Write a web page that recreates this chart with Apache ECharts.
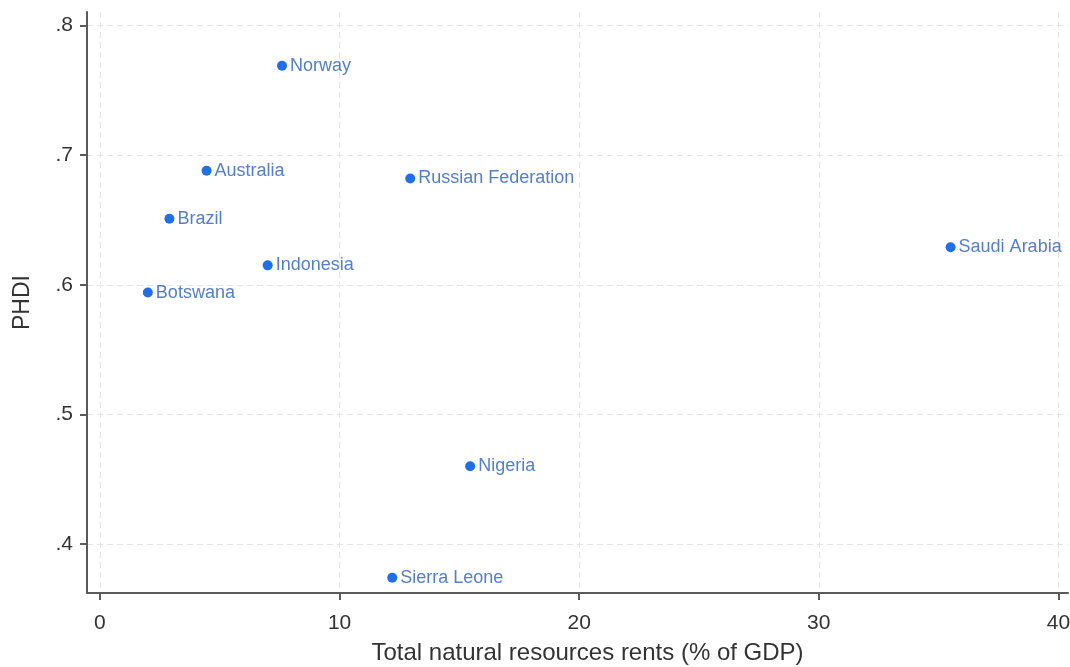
<!DOCTYPE html>
<html>
<head>
<meta charset="utf-8">
<title>PHDI vs natural resource rents</title>
<script src="https://cdn.jsdelivr.net/npm/echarts@6/dist/echarts.min.js"></script>
<style>
  html, body { margin: 0; padding: 0; background: #ffffff; }
  #chart { width: 1070px; height: 667px; }
</style>
</head>
<body>
<div id="chart"></div>
<script>
// Countries and their values
const countries = ['Norway', 'Australia', 'Russian Federation', 'Brazil', 'Saudi Arabia',
                   'Indonesia', 'Botswana', 'Nigeria', 'Sierra Leone'];
const rents = [7.6, 4.45, 12.95, 2.9, 35.5, 7.0, 2.0, 15.45, 12.2];   // % of GDP
const phdi  = [0.769, 0.688, 0.682, 0.651, 0.629, 0.615, 0.594, 0.460, 0.374];

// Tick labels
const xTicks = [0, 10, 20, 30, 40];
const yTicks = [0.4, 0.5, 0.6, 0.7, 0.8];

const FONT = '"Liberation Sans", Arial, sans-serif';
const AXIS_COLOR = '#5a5a5a';
const GRID_COLOR = '#e4e4e4';

const points = countries.map((name, i) => ({ name: name, value: [rents[i], phdi[i]] }));

const chart = echarts.init(document.getElementById('chart'), null, { renderer: 'canvas' });
chart.setOption({
  animation: false,
  backgroundColor: '#ffffff',
  grid: { left: 87, right: 2, top: 12, bottom: 74, containLabel: false, outerBoundsMode: 'none' },
  xAxis: {
    type: 'value',
    min: -0.54,
    max: 40.4,
    name: 'Total natural resources rents (% of GDP)',
    nameLocation: 'middle',
    nameGap: 48,
    nameTextStyle: { fontFamily: FONT, fontSize: 24, color: '#333333', padding: [0, 0, 0, 20] },
    axisLine: { show: true, onZero: false, lineStyle: { color: AXIS_COLOR, width: 2 } },
    axisTick: { show: true, length: 7, customValues: xTicks, lineStyle: { color: AXIS_COLOR, width: 2 } },
    axisLabel: { customValues: xTicks, margin: 20, fontFamily: FONT, fontSize: 21, color: '#333333' },
    splitLine: { show: true, lineStyle: { color: GRID_COLOR, type: [6, 4], width: 1 } }
  },
  yAxis: {
    type: 'value',
    min: 0.3623,
    max: 0.8104,
    name: 'PHDI',
    nameLocation: 'middle',
    nameGap: 53,
    nameTextStyle: { fontFamily: FONT, fontSize: 23, color: '#333333' },
    axisLine: { show: true, onZero: false, lineStyle: { color: AXIS_COLOR, width: 2 } },
    axisTick: { show: true, length: 7, customValues: yTicks, lineStyle: { color: AXIS_COLOR, width: 2 } },
    axisLabel: {
      customValues: yTicks, margin: 14, fontFamily: FONT, fontSize: 21, color: '#333333',
      formatter: v => v.toFixed(1).replace(/^0/, '')
    },
    splitLine: { show: true, lineStyle: { color: GRID_COLOR, type: [6, 4], width: 1 } }
  },
  series: [{
    type: 'scatter',
    data: points,
    symbol: 'circle',
    symbolSize: 10,
    itemStyle: { color: '#1f6fe6', opacity: 1 },
    label: {
      show: true,
      position: 'right',
      distance: 3,
      formatter: p => p.name,
      fontFamily: FONT,
      fontSize: 18,
      color: '#5580c8'
    }
  }]
});
</script>
</body>
</html>
